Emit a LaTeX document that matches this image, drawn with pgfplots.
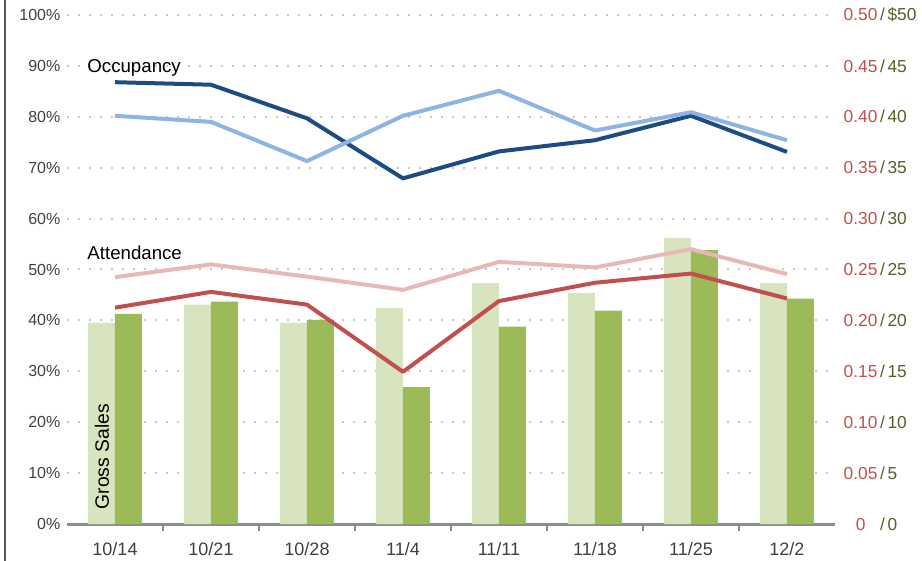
\documentclass[border=0pt]{standalone}
\usepackage{pgfplots}
\pgfplotsset{compat=1.18}
\usepackage{pgfplotstable}
\usepackage{fontspec}
\setmainfont{Liberation Sans}

\definecolor{navy}{HTML}{1C4C82}
\definecolor{lblue}{HTML}{8DB4E2}
\definecolor{pinkl}{HTML}{E6B9B8}
\definecolor{redl}{HTML}{C0504D}
\definecolor{lgreen}{HTML}{D7E4BD}
\definecolor{dgreen}{HTML}{9BBB59}
\definecolor{tickgray}{HTML}{404040}
\definecolor{axgray}{HTML}{8C8C8C}
\definecolor{gridgray}{HTML}{C8C8C8}
\definecolor{rtred}{HTML}{C0504D}
\definecolor{rtgreen}{HTML}{4F6228}

% right-hand labels: ratio / dollars
\newcommand{\rl}[2]{\makebox[1.946em][c]{\color{rtred}#1}\hspace{2pt}{\color{rtgreen}/\hspace{2pt}#2}}

\pgfplotstableread{
x light dark occ occb att attb
0 39.5 41.3 86.8 80.2 48.5 42.5
1 43.1 43.7 86.3 79.0 51.0 45.6
2 39.5 40.1 79.7 71.3 48.6 43.1
3 42.4 26.9 67.9 80.2 46.0 29.9
4 47.3 38.8 73.2 85.1 51.5 43.8
5 45.4 41.9 75.4 77.3 50.4 47.4
6 56.2 53.8 80.2 80.9 54.0 49.2
7 47.3 44.3 73.1 75.4 49.1 44.3
}\weekly

\begin{document}
\begin{tikzpicture}
\begin{axis}[
  scale only axis,
  width=576pt, height=381.75pt,
  xmin=-0.5, xmax=7.5, ymin=0, ymax=100,
  axis x line*=bottom, axis y line*=left,
  x axis line style={draw=axgray, line width=2.25pt, -},
  y axis line style={draw=none},
  xtick={0.5,1.5,...,6.5}, xticklabels={},
  xtick align=outside, major tick length=5.5pt,
  xtick style={draw=axgray, line width=1.5pt},
  extra x ticks={0,...,7},
  extra x tick labels={10/14,10/21,10/28,11/4,11/11,11/18,11/25,12/2},
  extra x tick style={major tick length=0pt, xtick style={draw=none},
    xticklabel style={yshift=-10pt}},
  xticklabel style={text=tickgray, font=\fontsize{13.5}{15}\selectfont},
  ytick={0,10,...,100},
  yticklabels={0\%,10\%,20\%,30\%,40\%,50\%,60\%,70\%,80\%,90\%,100\%},
  ytick style={draw=none},
  yticklabel style={text=tickgray, font=\fontsize{12}{14}\selectfont, xshift=-1.5pt},
  ymajorgrids,
  grid style={draw=gridgray, line width=1.5pt, dash pattern=on 1.5pt off 6.75pt},
  clip=false,
]
\addplot[ybar, bar width=0.28, bar shift=-0.14, fill=lgreen, draw=none] table[x=x, y=light] {\weekly};
\addplot[ybar, bar width=0.28, bar shift=0.14, fill=dgreen, draw=none] table[x=x, y=dark] {\weekly};
\addplot[navy, line width=3pt, line join=round] table[x=x, y=occ] {\weekly};
\addplot[lblue, line width=3pt, line join=round] table[x=x, y=occb] {\weekly};
\addplot[redl, line width=3pt, line join=round] table[x=x, y=attb] {\weekly};
\addplot[pinkl, line width=3pt, line join=round] table[x=x, y=att] {\weekly};
\node[anchor=west, inner sep=0pt, font=\fontsize{14}{16}\selectfont] at (axis cs:-0.29,89.6) {Occupancy};
\node[anchor=west, inner sep=0pt, font=\fontsize{14}{16}\selectfont] at (axis cs:-0.29,53.2) {Attendance};
\node[rotate=90, inner sep=0pt, font=\fontsize{14.5}{16}\selectfont] at (axis cs:-0.135,13.2) {Gross Sales};
\end{axis}
\begin{axis}[
  scale only axis,
  width=576pt, height=381.75pt,
  xmin=-0.5, xmax=7.5, ymin=0, ymax=100,
  axis x line=none, axis y line*=right,
  y axis line style={draw=none},
  ytick={0,10,...,100},
  yticklabels={\rl{0}{0},\rl{0.05}{5},\rl{0.10}{10},\rl{0.15}{15},\rl{0.20}{20},\rl{0.25}{25},\rl{0.30}{30},\rl{0.35}{35},\rl{0.40}{40},\rl{0.45}{45},\rl{0.50}{\$50}},
  ytick style={draw=none},
  yticklabel style={anchor=west, font=\fontsize{13}{15}\selectfont, xshift=3pt},
]
\end{axis}
\draw[draw=black!65, line width=1.5pt] ([shift={(-46.5pt,-27.75pt)}]current axis.south west) -- ++(0,420.75pt);
\pgfresetboundingbox
\path ([shift={(-50.25pt,-27.75pt)}]current axis.south west) rectangle ++(691.5pt,420.75pt);
\end{tikzpicture}
\end{document}
